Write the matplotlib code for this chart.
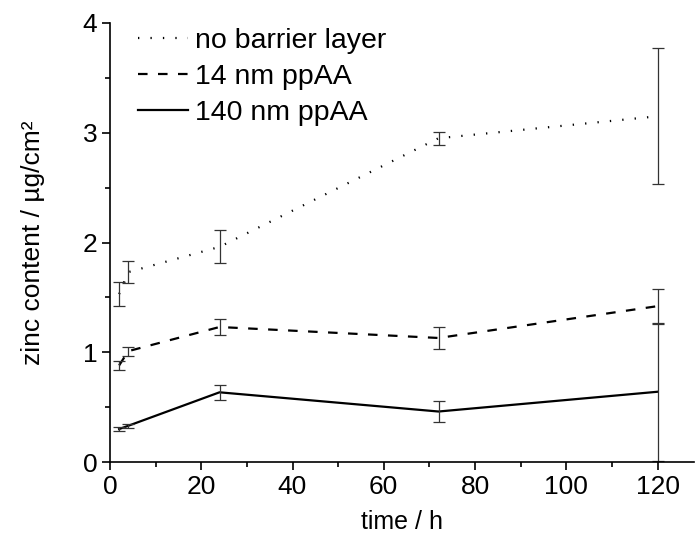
import matplotlib.pyplot as plt
from matplotlib.ticker import MultipleLocator

plt.rcParams['font.family'] = ['Liberation Sans', 'DejaVu Sans']

# time points (h)
time_h = [2, 4, 24, 72, 120]

# zinc content / ug/cm2 and standard deviation
no_barrier = [1.53, 1.73, 1.96, 2.95, 3.15]
no_barrier_err = [0.11, 0.10, 0.15, 0.06, 0.62]

ppaa_14 = [0.88, 1.01, 1.23, 1.13, 1.42]
ppaa_14_err = [0.04, 0.04, 0.07, 0.10, 0.16]

ppaa_140 = [0.30, 0.33, 0.635, 0.46, 0.64]
ppaa_140_err = [0.02, 0.02, 0.07, 0.10, 0.63]

labels = ['no barrier layer', '14 nm ppAA', '140 nm ppAA']

fig = plt.figure(figsize=(6.97, 5.4), dpi=100)
ax = fig.add_axes([110 / 697, 78 / 540, 584 / 697, 439 / 540])

series = [
    (no_barrier, no_barrier_err, (0, (0.6, 5.0)), labels[0]),
    (ppaa_14, ppaa_14_err, (0, (4.3, 4.7)), labels[1]),
    (ppaa_140, ppaa_140_err, '-', labels[2]),
]

for vals, errs, ls, lab in series:
    ax.plot(time_h, vals, color='black', linestyle=ls, linewidth=1.6, label=lab)
    ax.errorbar(time_h, vals, yerr=errs, fmt='none', ecolor='#333333',
                elinewidth=0.9, capsize=4, capthick=0.9)

ax.set_xlim(0, 128)
ax.set_ylim(0, 4)
ax.xaxis.set_major_locator(MultipleLocator(20))
ax.xaxis.set_minor_locator(MultipleLocator(10))
ax.yaxis.set_major_locator(MultipleLocator(1))
ax.yaxis.set_minor_locator(MultipleLocator(0.5))

ax.spines['top'].set_visible(False)
ax.spines['right'].set_visible(False)
ax.spines['left'].set_linewidth(1.2)
ax.spines['bottom'].set_linewidth(1.2)
ax.tick_params(which='major', direction='out', length=6, width=1.2,
               labelsize=19, pad=3)
ax.tick_params(which='minor', direction='out', length=3.5, width=1.2)

ax.set_xlabel('time / h', fontsize=18, labelpad=8)
ax.set_ylabel('zinc content / µg/cm²', fontsize=19, labelpad=27)

ax.legend(loc='upper left', frameon=False, fontsize=20.5, handlelength=1.75,
          handletextpad=0.25, labelspacing=0.35, borderaxespad=0.0,
          bbox_to_anchor=(0.028, 1.015))

fig.savefig('out.png', dpi=100)
